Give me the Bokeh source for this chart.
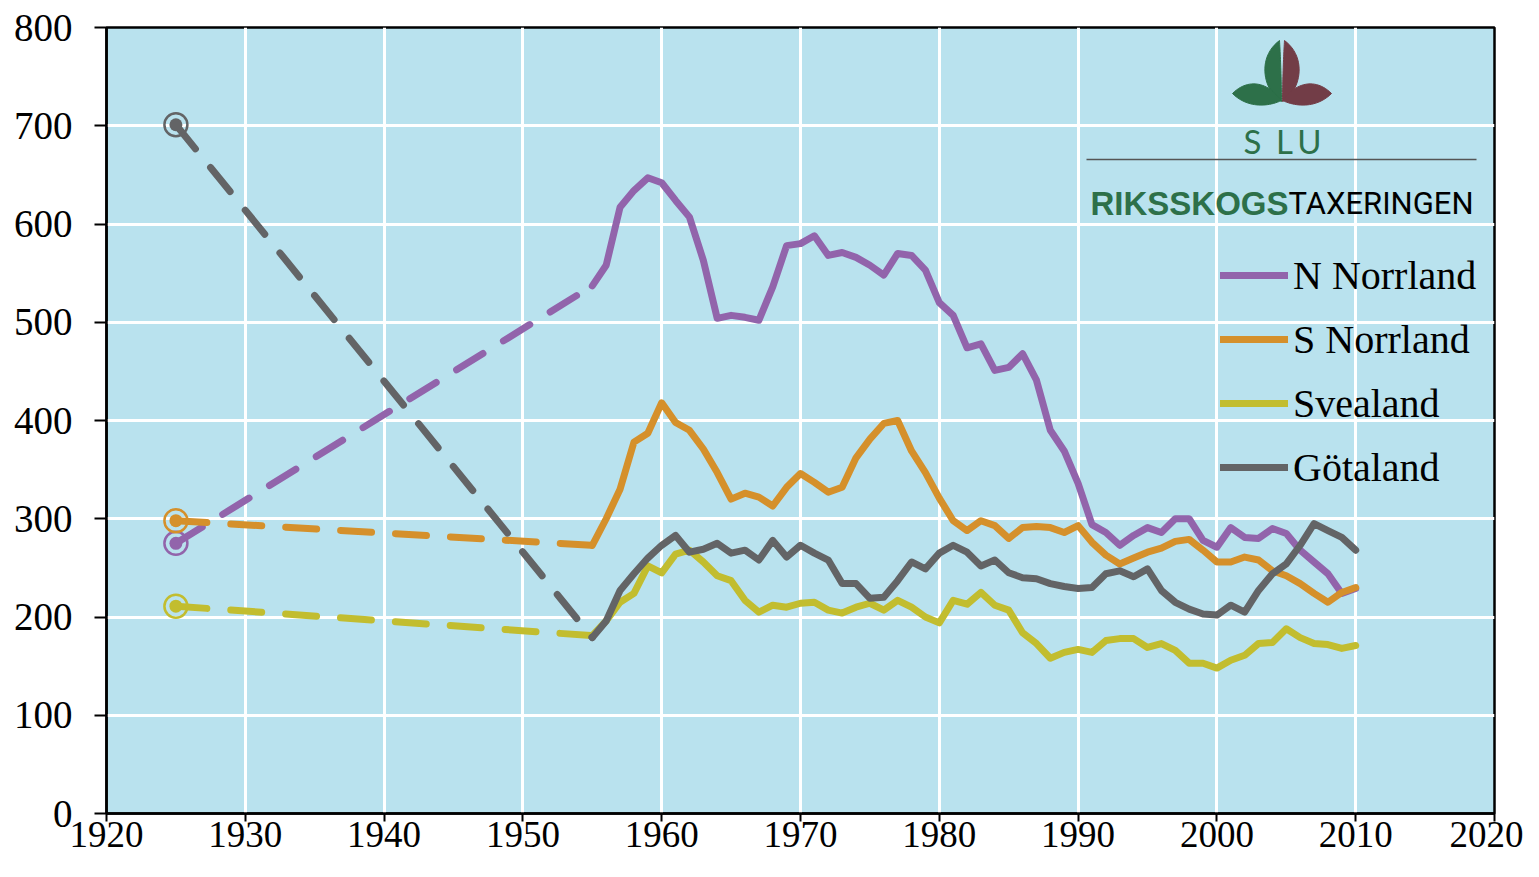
from bokeh.plotting import figure
from bokeh.models import Range1d, Legend, LegendItem, FixedTicker
from bokeh.embed import file_html
from bokeh.resources import INLINE
from bokeh.core.properties import value

# ---------------- data ----------------
years = list(range(1955, 2011))

n_norrland = [537, 558, 617, 634, 647, 642, 624, 607, 563, 504,
              507, 505, 502, 536, 578, 580, 588, 568, 571, 566,
              558, 548, 570, 568, 553, 520, 507, 474, 478, 451,
              454, 468, 441, 390, 369, 336, 294, 286, 273, 283,
              291, 286, 300, 300, 278, 271, 291, 281, 280, 290,
              285, 268, 256, 244, 224, 229]

s_norrland = [273, 300, 330, 378, 387, 418, 398, 390, 371, 347,
              320, 326, 322, 313, 332, 346, 337, 327, 332, 362,
              381, 397, 400, 369, 347, 321, 298, 288, 298, 293,
              280, 291, 292, 291, 286, 293, 276, 263, 254, 260,
              266, 270, 277, 279, 268, 256, 256, 261, 258, 247,
              242, 234, 224, 215, 225, 230]

svealand = [181, 196, 215, 224, 252, 245, 264, 268, 256, 242,
            237, 217, 205, 212, 210, 214, 215, 207, 204, 210,
            214, 207, 217, 210, 200, 194, 217, 213, 225, 212,
            207, 184, 173, 158, 164, 167, 164, 176, 178, 178,
            169, 173, 166, 153, 153, 148, 156, 161, 173, 174,
            188, 179, 173, 172, 168, 171]

gotaland = [179, 196, 227, 244, 260, 273, 283, 266, 269, 275,
            265, 268, 258, 278, 261, 273, 265, 258, 234, 234,
            219, 220, 237, 256, 249, 265, 273, 266, 252, 258,
            245, 240, 239, 234, 231, 229, 230, 244, 247, 241,
            249, 227, 215, 208, 203, 202, 212, 205, 227, 244,
            254, 273, 295, 288, 281, 268]

# early inventory (1925) joined by dashed lines to 1955
dash_years = [1925, 1955]
n_dash = [275, 537]
s_dash = [298, 273]
sv_dash = [211, 181]
g_dash = [701, 179]

series_names = ["N Norrland", "S Norrland", "Svealand", "Götaland"]
x_ticks = list(range(1920, 2021, 10))
y_ticks = list(range(0, 801, 100))

# ---------------- styling ----------------
colors = ["#9264AB", "#D5902B", "#C2BD2F", "#636466"]
bg = "#B9E2EE"
green = "#2D7049"
maroon = "#723D47"
serif = "Liberation Serif"

W, H = 1523, 861
p = figure(width=W, height=H, output_backend="svg", toolbar_location=None,
           x_range=Range1d(1920, 2020), y_range=Range1d(0, 800),
           min_border_left=106, min_border_right=29,
           min_border_top=27, min_border_bottom=48)

p.background_fill_color = bg
p.border_fill_color = "white"
p.outline_line_color = "black"
p.outline_line_width = 2.5

p.xaxis.ticker = FixedTicker(ticks=x_ticks)
p.yaxis.ticker = FixedTicker(ticks=y_ticks)
p.xgrid.ticker = FixedTicker(ticks=x_ticks)
p.ygrid.ticker = FixedTicker(ticks=y_ticks)
p.grid.grid_line_color = "white"
p.grid.grid_line_width = 3

for ax in (p.xaxis, p.yaxis):
    ax.axis_line_color = "black"
    ax.axis_line_width = 2.5
    ax.major_tick_line_color = "black"
    ax.major_tick_line_width = 2
    ax.major_tick_in = 0
    ax.minor_tick_line_color = None
    ax.major_label_text_font = serif
    ax.major_label_text_font_size = "39px"
    ax.major_label_text_color = "black"

p.yaxis.major_tick_out = 12
p.yaxis.major_label_standoff = 22
p.xaxis.major_tick_out = 8
p.xaxis.major_label_standoff = 0
p.xaxis.major_label_text_font_size = "37px"

# ---------------- lines ----------------
dash_sets = [n_dash, s_dash, sv_dash, g_dash]
solid_sets = [n_norrland, s_norrland, svealand, gotaland]

solid_renderers = []
for vals, dvals, col in zip(solid_sets, dash_sets, colors):
    p.line(dash_years, dvals, line_color=col, line_width=7,
           line_dash="31 24", line_cap="round")
    r = p.line(years, vals, line_color=col, line_width=7,
               line_cap="round", line_join="round")
    solid_renderers.append(r)
    p.scatter([dash_years[0]], [dvals[0]], size=23, marker="circle",
              fill_color=None, line_color=col, line_width=2.5)
    p.scatter([dash_years[0]], [dvals[0]], size=13, marker="circle",
              fill_color=col, line_color=None)

legend = Legend(items=[LegendItem(label=n, renderers=[r])
                       for n, r in zip(series_names, solid_renderers)],
                location=(1114, 321), padding=0, margin=0, spacing=14,
                glyph_width=68, glyph_height=50, label_height=50,
                label_standoff=5, background_fill_alpha=0,
                border_line_color=None,
                label_text_font=serif, label_text_font_size="40px",
                label_text_color="black")
p.add_layout(legend)

# ---------------- logo (decoration, placed by pixel position) ----------------
def dx(px):
    return 1920 + (px - 106) / 13.88


def dy(py):
    return (813 - py) / 0.9825


def cubic(a, c1, c2, b, n=24):
    pts = []
    for i in range(n + 1):
        t = i / n
        u = 1 - t
        x = u**3 * a[0] + 3 * u * u * t * c1[0] + 3 * u * t * t * c2[0] + t**3 * b[0]
        y = u**3 * a[1] + 3 * u * u * t * c1[1] + 3 * u * t * t * c2[1] + t**3 * b[1]
        pts.append((x, y))
    return pts


def leaf(a, c1, c2, b, d1, d2):
    pts = cubic(a, c1, c2, b) + cubic(b, d1, d2, a)[1:]
    return [dx(x) for x, _ in pts], [dy(y) for _, y in pts]


leaves = [
    (leaf((1279, 40), (1255, 58), (1264, 92), (1281, 101), (1281, 85), (1280, 55)), green),
    (leaf((1284, 40), (1308, 58), (1299, 92), (1282, 101), (1282, 85), (1283, 55)), maroon),
    (leaf((1232, 93), (1248, 77), (1268, 82), (1281, 100), (1266, 107), (1246, 107)), green),
    (leaf((1331, 93), (1315, 77), (1295, 82), (1282, 100), (1297, 107), (1317, 107)), maroon),
]
for (xs, ys), col in leaves:
    p.patch(xs, ys, fill_color=col, line_color=col, line_width=1)

p.text(x=[dx(1252), dx(1284), dx(1309)], y=[dy(140)] * 3, text=["S", "L", "U"],
       text_font=value("Lato"), text_font_size="33px", text_color=green,
       text_align="center", text_baseline="alphabetic")

p.segment(x0=[dx(1086)], y0=[dy(159)], x1=[dx(1476)], y1=[dy(159)],
          line_color="#555555", line_width=1.5)

p.text(x=[dx(1288)], y=[dy(203)], text=["RIKSSKOGS"],
       text_font=value("Liberation Sans"), text_font_style="bold",
       text_font_size="33px", text_color=green,
       text_align="right", text_baseline="alphabetic")
p.text(x=[dx(1288)], y=[dy(203)], text=["TAXERINGEN"],
       text_font=value("Roboto"), text_font_size="31px", text_color="black",
       text_align="left", text_baseline="alphabetic")

open("out.html", "w").write(file_html(p, INLINE))
